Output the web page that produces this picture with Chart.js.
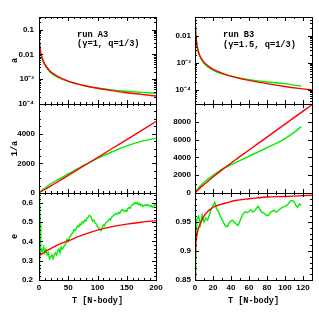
<!DOCTYPE html>
<html>
<head>
<meta charset="utf-8">
<script src="https://cdn.jsdelivr.net/npm/chart.js@4.4.1/dist/chart.umd.min.js"></script>
<style>
  html, body { margin: 0; padding: 0; background: #fff; }
  #wrap { position: relative; width: 319px; height: 319px; overflow: hidden; }
  #wrap canvas { position: absolute; left: 0; top: 0; }
</style>
</head>
<body>
<div id="wrap">
  <canvas id="aLeft" width="319" height="319"></canvas>
  <canvas id="aRight" width="319" height="319"></canvas>
  <canvas id="invLeft" width="319" height="319"></canvas>
  <canvas id="invRight" width="319" height="319"></canvas>
  <canvas id="eLeft" width="319" height="319"></canvas>
  <canvas id="eRight" width="319" height="319"></canvas>
</div>
<script>
/* ============================================================
   two runs (A3, B3): semi-major axis a, 1/a and eccentricity e
   red = model, green = N-body
   ============================================================ */

/* ─── run A3 : a ─── */
const tA_a     = [0, 0.5, 1, 2, 3, 5, 8, 12, 20, 30, 50, 75, 100, 125, 150, 175, 200];
const aA_red   = [0.11, 0.045, 0.029, 0.017, 0.012, 0.0078, 0.005, 0.0034, 0.002, 0.00137, 8.4e-4, 5.7e-4, 4.3e-4, 3.45e-4, 2.85e-4, 2.45e-4, 2.1e-4];
const aA_green = [0.13, 0.043, 0.027, 0.015, 0.0105, 0.0068, 0.0045, 0.0031, 0.0018, 0.00127, 8.1e-4, 5.6e-4, 4.4e-4, 3.7e-4, 3.25e-4, 2.95e-4, 2.7e-4];

/* ─── run A3 : 1/a ─── */
const tA_inv     = [0, 2, 5, 10, 25, 50, 75, 100, 125, 150, 175, 200];
const invA_red   = [0, 60, 125, 235, 590, 1190, 1790, 2390, 3000, 3600, 4210, 4820];
const invA_green = [0, 90, 190, 340, 740, 1290, 1830, 2340, 2780, 3180, 3480, 3700];

/* ─── run A3 : e ─── */
const tA_eRed = [0, 0.5, 1, 2, 5, 10, 20, 35, 50, 75, 100, 125, 150, 175, 200];
const eA_red  = [0.2, 0.3, 0.325, 0.33, 0.335, 0.345, 0.362, 0.385, 0.403, 0.433, 0.458, 0.476, 0.489, 0.499, 0.507];
const tA_eGreen = [0, 0.8, 1.3, 2, 2.6, 3.2,
  4, 6, 8, 10, 12, 14, 16, 18, 20, 22, 24, 26, 28, 30, 32, 34, 36, 38, 40,
  42, 44, 46, 48, 50, 52, 54, 56, 58, 60, 62, 64, 66, 68, 70, 72, 74, 76, 78, 80,
  82, 84, 86, 88, 90, 92, 94, 96, 98, 100, 102, 104, 106, 108, 110, 112, 114, 116, 118, 120,
  122, 124, 126, 128, 130, 132, 134, 136, 138, 140, 142, 144, 146, 148, 150, 152, 154, 156, 158, 160,
  162, 164, 166, 168, 170, 172, 174, 176, 178, 180, 182, 184, 186, 188, 190, 192, 194, 196, 198, 200];
const eA_green = [0.2, 0.4, 0.66, 0.5, 0.36, 0.34,
  0.36, 0.35, 0.37, 0.34, 0.36, 0.33, 0.34, 0.31, 0.32,
  0.33, 0.31, 0.33, 0.34, 0.33, 0.35, 0.36, 0.34, 0.37, 0.36,
  0.37, 0.38, 0.39, 0.41, 0.40, 0.42, 0.43, 0.44, 0.445, 0.46,
  0.455, 0.47, 0.48, 0.475, 0.49, 0.485, 0.50, 0.495, 0.51, 0.505,
  0.52, 0.525, 0.535, 0.53, 0.52, 0.505, 0.51, 0.495, 0.49, 0.475,
  0.47, 0.46, 0.455, 0.47, 0.485, 0.48, 0.495, 0.50, 0.505, 0.515,
  0.51, 0.525, 0.53, 0.535, 0.54, 0.545, 0.54, 0.55, 0.545, 0.555,
  0.565, 0.56, 0.555, 0.56, 0.555, 0.57, 0.575, 0.57, 0.585, 0.59,
  0.595, 0.60, 0.595, 0.60, 0.59, 0.595, 0.585, 0.59, 0.58, 0.585,
  0.59, 0.585, 0.59, 0.585, 0.58, 0.585, 0.575, 0.58, 0.59, 0.585];

/* ─── run B3 : a ─── */
const tB_aRed   = [0, 0.5, 1, 2, 3, 5, 8, 12, 18, 25, 35, 45, 60, 80, 100, 115, 130];
const aB_red    = [0.05, 0.02, 0.01, 0.0052, 0.0034, 0.002, 0.0013, 9e-4, 6.4e-4, 4.8e-4, 3.6e-4, 2.9e-4, 2.25e-4, 1.7e-4, 1.33e-4, 1.14e-4, 1.0e-4];
const tB_aGreen = [0, 0.5, 1, 2, 3, 5, 8, 12, 18, 25, 35, 45, 60, 80, 100, 110, 118];
const aB_green  = [0.06, 0.018, 0.009, 0.0046, 0.003, 0.0018, 0.0012, 8.2e-4, 5.9e-4, 4.5e-4, 3.6e-4, 2.95e-4, 2.4e-4, 1.95e-4, 1.7e-4, 1.5e-4, 1.36e-4];

/* ─── run B3 : 1/a ─── */
const tB_invRed   = [0, 1, 3, 6, 10, 20, 30, 45, 60, 80, 100, 115, 130];
const invB_red    = [0, 100, 300, 620, 950, 1800, 2600, 3740, 4830, 6280, 7740, 8830, 9920];
const tB_invGreen = [0, 2, 5, 10, 20, 31, 45, 63, 82, 96, 105, 112, 118];
const invB_green  = [0, 350, 700, 1200, 1980, 2730, 3400, 4270, 5180, 5860, 6450, 6950, 7455];

/* ─── run B3 : e ─── */
const tB_eRed = [0, 0.3, 0.7, 1.5, 3, 5, 7, 10, 14, 18, 22, 28, 35, 45, 60, 80, 100, 115, 130];
const eB_red  = [0.85, 0.88, 0.905, 0.922, 0.934, 0.944, 0.951, 0.96, 0.968, 0.973, 0.977, 0.98, 0.983, 0.987, 0.99, 0.993, 0.994, 0.995, 0.996];
const tB_eGreen = [0, 0.5, 1, 1.5,
  2, 4, 6, 8, 10, 12, 14, 16, 18, 20, 22, 24, 26, 28, 30, 32, 34, 36, 38, 40,
  42, 44, 46, 48, 50, 52, 54, 56, 58, 60, 62, 64, 66, 68, 70, 72, 74, 76, 78, 80,
  82, 84, 86, 88, 90, 92, 94, 96, 98, 100, 102, 104, 106, 108, 110, 112, 114, 116, 118];
const eB_green = [0.85, 0.88, 0.94, 0.925,
  0.955, 0.96, 0.945, 0.962, 0.95, 0.957, 0.953, 0.962, 0.972, 0.978,
  0.984, 0.972, 0.969, 0.96, 0.955, 0.948, 0.943, 0.942, 0.948, 0.952,
  0.953, 0.949, 0.946, 0.944, 0.952, 0.96, 0.965, 0.968, 0.966, 0.968,
  0.971, 0.967, 0.969, 0.973, 0.977, 0.972, 0.967, 0.966, 0.963, 0.961,
  0.962, 0.967, 0.969, 0.97, 0.967, 0.969, 0.972, 0.974, 0.976, 0.977,
  0.979, 0.982, 0.986, 0.987, 0.985, 0.979, 0.975, 0.981, 0.979];

/* ─── tick labels ─── */
const xTicksA  = [0, 50, 100, 150, 200];
const xTicksB  = [0, 20, 40, 60, 80, 100, 120];
const aTicksA  = [0.1, 0.01, 0.001, 0.0001];
const aLabelsA = ["0.1", "0.01", "10⁻³", "10⁻⁴"];
const aTicksB  = [0.01, 0.001, 0.0001];
const aLabelsB = ["0.01", "10⁻³", "10⁻⁴"];
const invTicksA = [0, 2000, 4000];
const invTicksB = [0, 2000, 4000, 6000, 8000];
const eTicksA  = [0.2, 0.3, 0.4, 0.5, 0.6];
const eTicksB  = [0.85, 0.9, 0.95];

const RED = "#ff0000";
const GREEN = "#00ee00";
const tickFont  = { family: "'Liberation Sans', Arial, sans-serif", size: 8, weight: "bold" };
const titleFont = { family: "'Liberation Mono', monospace", size: 8.5, weight: "bold" };

/* ─── helpers for tick mark positions ─── */
function steps(lo, hi, step) {
  const out = [];
  for (let v = lo; v <= hi + step * 1e-6; v += step) out.push(+v.toFixed(6));
  return out;
}
function logMinor(lo, hi) {
  const out = [];
  for (let k = -6; k <= 0; k++) {
    const d = Math.pow(10, k);
    for (let m = 2; m <= 9; m++) { const v = m * d; if (v >= lo && v <= hi) out.push(v); }
  }
  return out;
}

/* ─── frame with inward ticks on all four sides + notes ─── */
const frameTicks = {
  id: "frameTicks",
  afterDraw(chart, args, o) {
    const { ctx, chartArea: a } = chart;
    const sx = chart.scales.x, sy = chart.scales.y;
    ctx.save();
    ctx.strokeStyle = "#000";
    ctx.lineWidth = 1;
    ctx.beginPath();
    const tick = (vals, len, horiz) => vals.forEach(v => {
      if (horiz) {
        const p = Math.round(sx.getPixelForValue(v)) + 0.5;
        ctx.moveTo(p, a.top); ctx.lineTo(p, a.top + len);
        ctx.moveTo(p, a.bottom); ctx.lineTo(p, a.bottom - len);
      } else {
        const p = Math.round(sy.getPixelForValue(v)) + 0.5;
        ctx.moveTo(a.left, p); ctx.lineTo(a.left + len, p);
        ctx.moveTo(a.right, p); ctx.lineTo(a.right - len, p);
      }
    });
    tick(o.xMajor, 4, true);
    tick(o.xMinor, 2, true);
    tick(o.yMajor, 4, false);
    tick(o.yMinor, 2, false);
    ctx.stroke();
    ctx.strokeRect(Math.round(a.left) + 0.5, Math.round(a.top) + 0.5,
                   Math.round(a.right - a.left), Math.round(a.bottom - a.top));
    ctx.fillStyle = "#000";
    ctx.font = "bold 8.7px 'Liberation Mono', monospace";
    (o.notes || []).forEach(n => ctx.fillText(n.text, n.x, n.y));
    ctx.restore();
  }
};

function series(xs, ys, color, smooth) {
  return {
    data: xs.map((t, i) => ({ x: t, y: ys[i] })),
    borderColor: color, borderWidth: 1.4, pointRadius: 0, fill: false,
    tension: 0, cubicInterpolationMode: smooth ? "monotone" : "default",
  };
}

/* ─── one panel ─── */
function makePanel(id, cfg) {
  const bottom = !!cfg.xLabelled;
  const xPadBottom = bottom ? 319 - cfg.box[3] - 26 : 319 - cfg.box[3];
  return new Chart(document.getElementById(id), {
    type: "line",
    data: { datasets: cfg.series },
    options: {
      responsive: false, animation: false, events: [],
      layout: { padding: { left: cfg.box[0] - cfg.yWidth, top: cfg.box[1], right: 319 - cfg.box[2], bottom: xPadBottom } },
      plugins: {
        legend: { display: false }, tooltip: { enabled: false },
        frameTicks: { xMajor: cfg.xMajor, xMinor: cfg.xMinor, yMajor: cfg.yMajor, yMinor: cfg.yMinor, notes: cfg.notes },
      },
      scales: {
        x: {
          type: "linear", min: cfg.xMin, max: cfg.xMax, display: bottom,
          grid: { display: false, drawTicks: false }, border: { display: false },
          afterBuildTicks: s => { s.ticks = cfg.xTicks.map(v => ({ value: v })); },
          afterFit: s => { if (bottom) s.height = 26; },
          ticks: { autoSkip: false, maxRotation: 0, padding: 3, color: "#000", font: tickFont, callback: v => String(v) },
          title: { display: bottom, text: "T [N-body]", color: "#000", font: titleFont, padding: { top: 0, bottom: 0 } },
        },
        y: {
          type: cfg.log ? "logarithmic" : "linear", min: cfg.yMin, max: cfg.yMax,
          grid: { display: false, drawTicks: false }, border: { display: false },
          afterBuildTicks: s => { s.ticks = cfg.yTicks.map(v => ({ value: v })); },
          afterFit: s => { s.width = cfg.yWidth; },
          ticks: { autoSkip: false, padding: cfg.yPad, color: "#000", font: tickFont, callback: (v, i) => cfg.yLabels[i] },
          title: { display: !!cfg.yTitle, text: cfg.yTitle, color: "#000", font: titleFont, padding: { top: 10, bottom: 0 } },
        },
      },
    },
    plugins: [frameTicks],
  });
}

const LEFT  = [39, 156];
const RIGHT = [195, 312];
const ROWS  = [[17, 104], [104, 193], [193, 280]];

/* ─── build the six panels ─── */
makePanel("aLeft", {
  box: [LEFT[0], ROWS[0][0], LEFT[1], ROWS[0][1]], yWidth: 39, yPad: 5, yTitle: "a",
  xMin: 0, xMax: 200, xTicks: xTicksA, xMajor: xTicksA, xMinor: steps(0, 200, 10),
  log: true, yMin: 1e-4, yMax: 0.32, yTicks: aTicksA, yLabels: aLabelsA,
  yMajor: aTicksA, yMinor: logMinor(1e-4, 0.32),
  notes: [{ text: "run A3", x: 77, y: 36.5 }, { text: "(γ=1, q=1/3)", x: 77, y: 46 }],
  series: [series(tA_a, aA_red, RED, true), series(tA_a, aA_green, GREEN, true)],
});
makePanel("aRight", {
  box: [RIGHT[0], ROWS[0][0], RIGHT[1], ROWS[0][1]], yWidth: 35, yPad: 4,
  xMin: 0, xMax: 130, xTicks: xTicksB, xMajor: xTicksB, xMinor: steps(0, 130, 10),
  log: true, yMin: 3e-5, yMax: 0.05, yTicks: aTicksB, yLabels: aLabelsB,
  yMajor: aTicksB, yMinor: logMinor(3e-5, 0.05),
  notes: [{ text: "run B3", x: 223, y: 36.5 }, { text: "(γ=1.5, q=1/3)", x: 223, y: 46.5 }],
  series: [series(tB_aRed, aB_red, RED, true), series(tB_aGreen, aB_green, GREEN, true)],
});
makePanel("invLeft", {
  box: [LEFT[0], ROWS[1][0], LEFT[1], ROWS[1][1]], yWidth: 39, yPad: 4, yTitle: "1/a",
  xMin: 0, xMax: 200, xTicks: xTicksA, xMajor: xTicksA, xMinor: steps(0, 200, 10),
  yMin: 0, yMax: 6000, yTicks: invTicksA, yLabels: invTicksA.map(String),
  yMajor: [0, 2000, 4000, 6000], yMinor: steps(0, 6000, 500),
  series: [series(tA_inv, invA_red, RED, true), series(tA_inv, invA_green, GREEN, true)],
});
makePanel("invRight", {
  box: [RIGHT[0], ROWS[1][0], RIGHT[1], ROWS[1][1]], yWidth: 35, yPad: 4,
  xMin: 0, xMax: 130, xTicks: xTicksB, xMajor: xTicksB, xMinor: steps(0, 130, 10),
  yMin: 0, yMax: 10000, yTicks: invTicksB, yLabels: invTicksB.map(String),
  yMajor: steps(0, 10000, 2000), yMinor: steps(0, 10000, 1000),
  series: [series(tB_invRed, invB_red, RED, true), series(tB_invGreen, invB_green, GREEN, false)],
});
makePanel("eLeft", {
  box: [LEFT[0], ROWS[2][0], LEFT[1], ROWS[2][1]], yWidth: 39, yPad: 6, yTitle: "e",
  xLabelled: true, xMin: 0, xMax: 200, xTicks: xTicksA, xMajor: xTicksA, xMinor: steps(0, 200, 10),
  yMin: 0.2, yMax: 0.65, yTicks: eTicksA, yLabels: eTicksA.map(String),
  yMajor: eTicksA, yMinor: steps(0.2, 0.64, 0.02),
  series: [series(tA_eRed, eA_red, RED, true), series(tA_eGreen, eA_green, GREEN, false)],
});
makePanel("eRight", {
  box: [RIGHT[0], ROWS[2][0], RIGHT[1], ROWS[2][1]], yWidth: 35, yPad: 4,
  xLabelled: true, xMin: 0, xMax: 130, xTicks: xTicksB, xMajor: xTicksB, xMinor: steps(0, 130, 10),
  yMin: 0.85, yMax: 1.0, yTicks: eTicksB, yLabels: eTicksB.map(String),
  yMajor: [0.85, 0.9, 0.95, 1.0], yMinor: steps(0.85, 1.0, 0.01),
  series: [series(tB_eRed, eB_red, RED, true), series(tB_eGreen, eB_green, GREEN, false)],
});
</script>
</body>
</html>
